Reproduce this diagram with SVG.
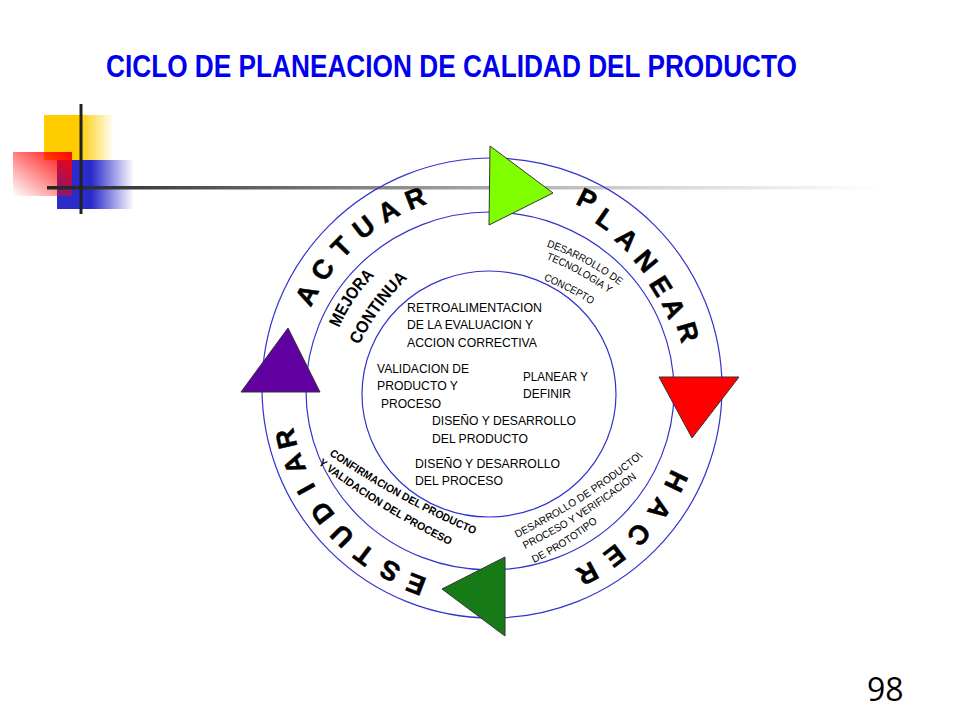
<svg xmlns="http://www.w3.org/2000/svg" width="960" height="720" viewBox="0 0 960 720">
<defs>
<linearGradient id="gY" x1="0" y1="0" x2="1" y2="0">
<stop offset="0" stop-color="#ffcc00"/><stop offset="0.5" stop-color="#ffcc00"/><stop offset="1" stop-color="#ffcc00" stop-opacity="0"/>
</linearGradient>
<linearGradient id="gB" x1="0" y1="0" x2="1" y2="0">
<stop offset="0" stop-color="#2b2bcc"/><stop offset="0.45" stop-color="#2b2bcc"/><stop offset="1" stop-color="#2b2bcc" stop-opacity="0"/>
</linearGradient>
<linearGradient id="gR" x1="1" y1="0" x2="0" y2="1">
<stop offset="0" stop-color="#ff0000"/><stop offset="1" stop-color="#ff0000" stop-opacity="0"/>
</linearGradient>
<linearGradient id="gL" gradientUnits="userSpaceOnUse" x1="47" y1="0" x2="880" y2="0">
<stop offset="0" stop-color="#222"/><stop offset="0.4" stop-color="#888"/><stop offset="0.7" stop-color="#d0d0d0"/><stop offset="1" stop-color="#fff"/>
</linearGradient>
<path id="p1" d="M546.5,246.5 Q586,260 619.5,285.5"/>
<path id="p2" d="M546,259 Q579,272 609.5,294"/>
<path id="p3" d="M543.5,280 Q568,290 591.5,304.5"/>
<path id="p4" d="M517,538 Q585,504 644,456"/>
<path id="p5" d="M525,549 Q587,519 640,475"/>
<path id="p6" d="M534,563 Q569,546 599,521"/>
<path id="p7" d="M329,455 Q400.5,503 480,537"/>
<path id="p8" d="M318,464 Q382.5,513 455.6,548"/>
<path id="p9" d="M339,328 Q352,298 375,275"/>
<path id="p10" d="M359,345 Q378,307 408,278"/>
</defs>
<style>
.ring{fill:none;stroke:#3333cc;stroke-width:1.2}
.big{font-family:"Liberation Sans",Arial,sans-serif;font-weight:bold;font-size:27px;fill:#000;stroke:#000;stroke-width:0.5;text-anchor:middle}
.sm{font-family:"Liberation Sans",Arial,sans-serif;font-size:10.5px;fill:#000}
.smb{font-family:"Liberation Sans",Arial,sans-serif;font-size:11px;font-weight:bold;fill:#000}
.mej{font-family:"Liberation Sans",Arial,sans-serif;font-size:17px;font-weight:bold;fill:#000}
.in{font-family:"Liberation Sans",Arial,sans-serif;font-size:13.5px;fill:#000}
.tri{stroke:#333;stroke-width:1}
</style>
<rect width="960" height="720" fill="#fff"/>
<g id="decoration">
<rect x="44" y="115" width="70" height="45" fill="url(#gY)"/>
<rect x="57" y="160" width="77" height="49" fill="url(#gB)"/>
<rect x="13" y="152" width="59" height="44" fill="url(#gR)"/>
<rect x="47" y="186" width="833" height="3.5" fill="url(#gL)"/>
<rect x="79.5" y="104" width="3" height="110" fill="#222"/>
</g>
<text id="title" x="106" y="77" font-family="'Liberation Sans',Arial,sans-serif" font-weight="bold" font-size="31" fill="#0000ee" textLength="691" lengthAdjust="spacingAndGlyphs">CICLO DE PLANEACION DE CALIDAD DEL PRODUCTO</text>
<g id="cycle">
<circle class="ring" cx="492" cy="388" r="230"/>
<ellipse class="ring" cx="490" cy="391" rx="184" ry="179"/>
<ellipse class="ring" cx="489" cy="394" rx="127" ry="123"/>
</g>
<g id="connectors">
<polygon class="tri" points="490,146 553,193 489,225" fill="#80ff00"/>
<polygon class="tri" points="659,377 739,377 692,438" fill="#ff0000"/>
<polygon class="tri" points="442,589 505,557 505,636" fill="#167a16"/>
<polygon class="tri" points="288,328 241,392 320,392" fill="#6000a0"/>
</g>
<g id="actuar">
<text class="big" y="9.5" transform="translate(306.7,294.8) rotate(297.7)">A</text>
<text class="big" y="9.5" transform="translate(322.3,269.6) rotate(305.9)">C</text>
<text class="big" y="9.5" transform="translate(341.4,247.0) rotate(314.1)">T</text>
<text class="big" y="9.5" transform="translate(363.7,227.0) rotate(322.4)">U</text>
<text class="big" y="9.5" transform="translate(388.4,210.7) rotate(330.6)">A</text>
<text class="big" y="9.5" transform="translate(415.1,198.0) rotate(338.8)">R</text>
</g>
<g id="planear">
<text class="big" y="9.5" transform="translate(587,199) rotate(26.9)">P</text>
<text class="big" y="9.5" transform="translate(606,219) rotate(34.7)">L</text>
<text class="big" y="9.5" transform="translate(627,239) rotate(42.5)">A</text>
<text class="big" y="9.5" transform="translate(646,261) rotate(50.2)">N</text>
<text class="big" y="9.5" transform="translate(661,286) rotate(58.0)">E</text>
<text class="big" y="9.5" transform="translate(674,308) rotate(65.8)">A</text>
<text class="big" y="9.5" transform="translate(688,332) rotate(73.6)">R</text>
</g>
<g id="hacer">
<text class="big" y="9.5" transform="translate(676.2,481.4) rotate(115.9)">H</text>
<text class="big" y="9.5" transform="translate(659.8,509.4) rotate(124.9)">A</text>
<text class="big" y="9.5" transform="translate(639.2,534.5) rotate(133.9)">C</text>
<text class="big" y="9.5" transform="translate(614.9,556.1) rotate(142.9)">E</text>
<text class="big" y="9.5" transform="translate(587.5,573.6) rotate(151.9)">R</text>
</g>
<g id="estudiar">
<text class="big" y="9.5" transform="translate(415.8,584.3) rotate(201)">E</text>
<text class="big" y="9.5" transform="translate(389.8,571) rotate(209)">S</text>
<text class="big" y="9.5" transform="translate(364,555) rotate(216.9)">T</text>
<text class="big" y="9.5" transform="translate(342,536) rotate(224.9)">U</text>
<text class="big" y="9.5" transform="translate(322,513) rotate(232.8)">D</text>
<text class="big" y="9.5" transform="translate(306,489) rotate(240.8)">I</text>
<text class="big" y="9.5" transform="translate(294,464) rotate(248.8)">A</text>
<text class="big" y="9.5" transform="translate(286,439) rotate(256.7)">R</text>
</g>
<g id="mejora">
<text class="mej"><textPath href="#p9" textLength="64" lengthAdjust="spacingAndGlyphs">MEJORA</textPath></text>
<text class="mej"><textPath href="#p10" textLength="83" lengthAdjust="spacingAndGlyphs">CONTINUA</textPath></text>
</g>
<g id="tecnologia">
<text class="sm"><textPath href="#p1" textLength="83" lengthAdjust="spacingAndGlyphs">DESARROLLO DE</textPath></text>
<text class="sm"><textPath href="#p2" textLength="72" lengthAdjust="spacingAndGlyphs">TECNOLOGIA Y</textPath></text>
<text class="sm"><textPath href="#p3" textLength="54" lengthAdjust="spacingAndGlyphs">CONCEPTO</textPath></text>
</g>
<g id="prototipo">
<text class="sm"><textPath href="#p4" textLength="150" lengthAdjust="spacingAndGlyphs">DESARROLLO DE PRODUCTO\</textPath></text>
<text class="sm"><textPath href="#p5" textLength="133" lengthAdjust="spacingAndGlyphs">PROCESO Y VERIFICACION</textPath></text>
<text class="sm"><textPath href="#p6" textLength="76" lengthAdjust="spacingAndGlyphs">DE PROTOTIPO</textPath></text>
</g>
<g id="confirmacion">
<text class="smb"><textPath href="#p7" textLength="166" lengthAdjust="spacingAndGlyphs">CONFIRMACION DEL PRODUCTO</textPath></text>
<text class="smb"><textPath href="#p8" textLength="155" lengthAdjust="spacingAndGlyphs">Y VALIDACION DEL PROCESO</textPath></text>
</g>
<g id="center">
<text class="in" x="407" y="312" textLength="135" lengthAdjust="spacingAndGlyphs">RETROALIMENTACION</text>
<text class="in" x="407" y="329" textLength="126" lengthAdjust="spacingAndGlyphs">DE LA EVALUACION Y</text>
<text class="in" x="407" y="347" textLength="130" lengthAdjust="spacingAndGlyphs">ACCION CORRECTIVA</text>
<text class="in" x="377" y="373" textLength="92" lengthAdjust="spacingAndGlyphs">VALIDACION DE</text>
<text class="in" x="377" y="390" textLength="81" lengthAdjust="spacingAndGlyphs">PRODUCTO Y</text>
<text class="in" x="381" y="408" textLength="60" lengthAdjust="spacingAndGlyphs">PROCESO</text>
<text class="in" x="523" y="381" textLength="65" lengthAdjust="spacingAndGlyphs">PLANEAR Y</text>
<text class="in" x="523" y="398" textLength="48" lengthAdjust="spacingAndGlyphs">DEFINIR</text>
<text class="in" x="432" y="425" textLength="144" lengthAdjust="spacingAndGlyphs">DISEÑO Y DESARROLLO</text>
<text class="in" x="432" y="443" textLength="96" lengthAdjust="spacingAndGlyphs">DEL PRODUCTO</text>
<text class="in" x="415" y="468" textLength="145" lengthAdjust="spacingAndGlyphs">DISEÑO Y DESARROLLO</text>
<text class="in" x="415" y="485" textLength="88" lengthAdjust="spacingAndGlyphs">DEL PROCESO</text>
</g>
<text id="page" x="867" y="701" font-family="'Open Sans','Noto Sans',sans-serif" font-size="32" fill="#000">98</text>
</svg>
